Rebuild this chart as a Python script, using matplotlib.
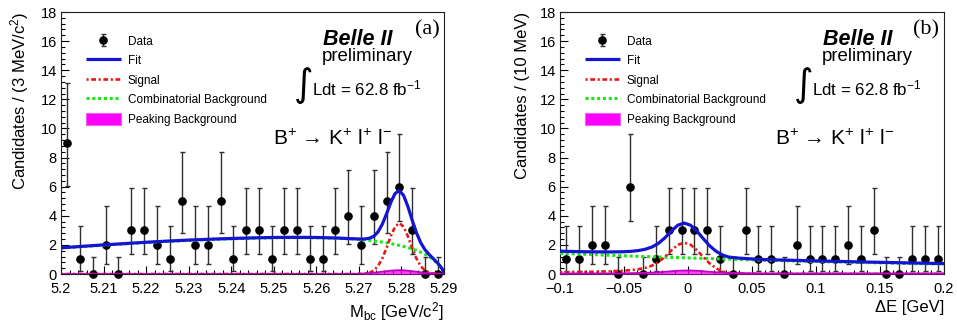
import matplotlib
matplotlib.use('Agg')
import matplotlib.pyplot as plt
from matplotlib.patches import Patch
from matplotlib.ticker import MultipleLocator, FixedLocator

plt.rcParams['font.family'] = ['Liberation Sans', 'DejaVu Sans']
plt.rcParams['mathtext.fontset'] = 'custom'
plt.rcParams['mathtext.rm'] = 'Liberation Sans'
plt.rcParams['mathtext.it'] = 'Liberation Sans:italic'
plt.rcParams['mathtext.bf'] = 'Liberation Sans:bold'

# ---------------- data: panel (a) Mbc ----------------
mbc_bins = [5.2015, 5.2045, 5.2075, 5.2105, 5.2135, 5.2165, 5.2195, 5.2225, 5.2255, 5.2285,
            5.2315, 5.2345, 5.2375, 5.2405, 5.2435, 5.2465, 5.2495, 5.2525, 5.2555, 5.2585,
            5.2615, 5.2645, 5.2675, 5.2705, 5.2735, 5.2765, 5.2795, 5.2825, 5.2855, 5.2885]
mbc_counts = [9, 1, 0, 2, 0, 3, 3, 2, 1, 5, 2, 2, 5, 1, 3, 3, 1, 3, 3, 1, 1, 3, 4, 2, 4, 5, 6, 3, 0, 0]

mbc_x = [5.200, 5.205, 5.210, 5.215, 5.220, 5.225, 5.230, 5.235, 5.240, 5.245, 5.250, 5.255,
         5.260, 5.265, 5.2695, 5.2705, 5.2715, 5.2725, 5.2735, 5.2745, 5.2755, 5.2765, 5.2775,
         5.2785, 5.2795, 5.2805, 5.2815, 5.2825, 5.2835, 5.2845, 5.2855, 5.2865, 5.2875, 5.2885,
         5.2893, 5.2898, 5.2900]
mbc_fit = [1.80, 1.90, 2.00, 2.09, 2.18, 2.26, 2.33, 2.39, 2.44, 2.48, 2.51, 2.52,
           2.51, 2.47, 2.41, 2.40, 2.41, 2.46, 2.59, 2.90, 3.42, 4.13, 4.92,
           5.53, 5.73, 5.40, 4.65, 3.72, 2.85, 2.17, 1.68, 1.34, 1.05, 0.75,
           0.46, 0.25, 0.0]
mbc_sig = [0, 0, 0, 0, 0, 0, 0, 0, 0, 0, 0, 0,
           0, 0, 0.0, 0.01, 0.03, 0.09, 0.24, 0.55, 1.07, 1.80, 2.60,
           3.25, 3.50, 3.25, 2.60, 1.80, 1.07, 0.55, 0.24, 0.09, 0.03, 0.01,
           0.0, 0.0, 0.0]
mbc_comb = [1.78, 1.88, 1.98, 2.07, 2.16, 2.24, 2.31, 2.37, 2.42, 2.46, 2.49, 2.50,
            2.49, 2.45, 2.40, 2.37, 2.34, 2.31, 2.27, 2.23, 2.19, 2.14, 2.09,
            2.03, 1.97, 1.90, 1.82, 1.73, 1.62, 1.50, 1.36, 1.19, 0.98, 0.72,
            0.45, 0.25, 0.0]
mbc_peak = [0, 0, 0, 0, 0, 0, 0, 0, 0, 0, 0, 0,
            0, 0, 0.01, 0.02, 0.04, 0.06, 0.08, 0.12, 0.16, 0.19, 0.23,
            0.25, 0.26, 0.25, 0.23, 0.19, 0.16, 0.12, 0.08, 0.06, 0.04, 0.02,
            0.01, 0.0, 0.0]
mbc_ticks = [5.20, 5.21, 5.22, 5.23, 5.24, 5.25, 5.26, 5.27, 5.28, 5.29]
mbc_ticklabels = ['5.2', '5.21', '5.22', '5.23', '5.24', '5.25', '5.26', '5.27', '5.28', '5.29']

# ---------------- data: panel (b) DeltaE ----------------
de_bins = [-0.095, -0.085, -0.075, -0.065, -0.055, -0.045, -0.035, -0.025, -0.015, -0.005,
           0.005, 0.015, 0.025, 0.035, 0.045, 0.055, 0.065, 0.075, 0.085, 0.095,
           0.105, 0.115, 0.125, 0.135, 0.145, 0.155, 0.165, 0.175, 0.185, 0.195]
de_counts = [1, 1, 2, 2, 0, 6, 0, 1, 3, 3, 3, 3, 1, 0, 3, 1, 1, 0, 2, 1, 1, 1, 2, 1, 3, 0, 0, 1, 1, 1]

de_x = [-0.100, -0.090, -0.080, -0.070, -0.060, -0.050, -0.044, -0.038, -0.033, -0.028,
        -0.023, -0.018, -0.013, -0.008, -0.003, 0.002, 0.007, 0.012, 0.017, 0.022,
        0.027, 0.032, 0.040, 0.050, 0.060, 0.080, 0.100, 0.120, 0.140, 0.160, 0.180, 0.200]
de_fit = [1.57, 1.545, 1.53, 1.52, 1.515, 1.53, 1.56, 1.62, 1.71, 1.86,
          2.11, 2.49, 2.95, 3.35, 3.50, 3.35, 2.94, 2.42, 1.93, 1.56,
          1.30, 1.16, 1.09, 1.035, 0.99, 0.945, 0.90, 0.86, 0.82, 0.785, 0.75, 0.715]
de_sig = [0.11, 0.12, 0.14, 0.16, 0.19, 0.23, 0.27, 0.34, 0.43, 0.58,
          0.82, 1.18, 1.62, 2.00, 2.15, 2.01, 1.63, 1.16, 0.72, 0.39,
          0.18, 0.07, 0.03, 0.01, 0.0, 0.0, 0.0, 0.0, 0.0, 0.0, 0.0, 0.0]
de_comb = [1.42, 1.385, 1.35, 1.32, 1.285, 1.25, 1.23, 1.21, 1.20, 1.18,
           1.17, 1.155, 1.14, 1.13, 1.115, 1.10, 1.085, 1.07, 1.06, 1.045,
           1.03, 1.02, 1.00, 0.975, 0.95, 0.905, 0.86, 0.82, 0.78, 0.745, 0.71, 0.675]
de_peak = [0.04, 0.04, 0.04, 0.04, 0.04, 0.05, 0.06, 0.07, 0.08, 0.10,
           0.12, 0.15, 0.19, 0.22, 0.24, 0.24, 0.22, 0.19, 0.15, 0.12,
           0.09, 0.07, 0.06, 0.05, 0.04, 0.04, 0.04, 0.04, 0.04, 0.04, 0.04, 0.04]
de_ticks = [-0.10, -0.05, 0.0, 0.05, 0.10, 0.15, 0.20]
de_ticklabels = ['\u22120.1', '\u22120.05', '0', '0.05', '0.1', '0.15', '0.2']

# Poisson (68%) intervals per count, as drawn
err_low = {0: 0.0, 1: 0.827, 2: 1.292, 3: 1.633, 4: 1.914, 5: 2.160, 6: 2.380, 9: 2.94}
err_high = {0: 1.148, 1: 2.300, 2: 2.638, 3: 2.918, 4: 3.163, 5: 3.382, 6: 3.584, 9: 4.12}

legend_labels = ['Data', 'Fit', 'Signal', 'Combinatorial Background', 'Peaking Background']

C_FIT = '#1414d2'
C_SIG = '#e81818'
C_COMB = '#1ee61e'
C_PEAK = '#ff00ff'

fig = plt.figure(figsize=(9.57, 3.29), dpi=100)
ax_a = fig.add_axes([61 / 957, 55 / 329, 383 / 957, 262 / 329])
ax_b = fig.add_axes([560 / 957, 55 / 329, 384 / 957, 262 / 329])


def draw_panel(ax, bins, counts, x, fit, sig, comb, peak, xlim, ticks, ticklabels,
               minor, ylabel, xlabel, tag, ylab_x, bk_x, decay_x):
    lo = [err_low[c] for c in counts]
    hi = [err_high[c] for c in counts]
    eb = ax.errorbar(bins, counts, yerr=[lo, hi], fmt='o', color='black', ms=5.2,
                     ecolor='#303030', elinewidth=1.0, capsize=1.8, capthick=1.0,
                     zorder=3, clip_on=False)
    for art in eb.lines[1] + eb.lines[2]:
        art.set_clip_on(False)
    ln_fit, = ax.plot(x, fit, color=C_FIT, lw=2.3, zorder=6, solid_capstyle='butt')
    ln_sig, = ax.plot(x, sig, color=C_SIG, lw=1.9, ls=(0, (0.8, 1.0, 1.8, 1.0)), zorder=5)
    ln_comb, = ax.plot(x, comb, color=C_COMB, lw=2.2, ls=(0, (1.0, 0.9)), zorder=4)
    ax.fill_between(x, 0, peak, color=C_PEAK, alpha=0.75, lw=0, zorder=7)
    ax.plot(x, peak, color='#c000c0', lw=1.3, zorder=7)

    ax.set_xlim(*xlim)
    ax.set_ylim(0, 18)
    ax.xaxis.set_major_locator(FixedLocator(ticks))
    ax.set_xticklabels(ticklabels)
    ax.xaxis.set_minor_locator(MultipleLocator(minor))
    ax.yaxis.set_major_locator(MultipleLocator(2))
    ax.yaxis.set_minor_locator(MultipleLocator(0.4))
    ax.tick_params(which='both', direction='in', top=False, right=False, labelsize=10.5,
                   width=0.8, colors='black')
    ax.tick_params(axis='x', which='major', length=6, pad=6)
    ax.tick_params(axis='x', which='minor', length=3.2)
    ax.tick_params(axis='y', which='major', length=5.5, pad=3)
    ax.tick_params(axis='y', which='minor', length=3)
    for s in ax.spines.values():
        s.set_linewidth(0.8)
        s.set_color('#202020')

    ax.set_ylabel(ylabel, fontsize=12, loc='top')
    ax.yaxis.set_label_coords(ylab_x, 1.0)
    ax.set_xlabel(xlabel, fontsize=12, loc='right')
    ax.xaxis.set_label_coords(1.0, -0.1)

    handles = [eb, ln_fit, ln_sig, ln_comb,
               Patch(facecolor=C_PEAK, edgecolor='#f060f0', lw=0.8)]
    ax.legend(handles, legend_labels, loc='upper left', bbox_to_anchor=(0.066, 0.912),
              frameon=False, fontsize=8.5, handlelength=2.9, handleheight=1.15,
              handletextpad=0.6, labelspacing=0.56, borderpad=0.0, borderaxespad=0.0)

    t = ax.transAxes
    ax.text(0.684, 0.874, 'Belle II', transform=t, fontsize=15.5, fontweight='bold',
            fontstyle='italic', ha='left', va='baseline')
    ax.text(bk_x, 0.916, tag, transform=t, fontsize=16, family='Liberation Serif',
            ha='left', va='baseline')
    ax.text(0.681, 0.812, 'preliminary', transform=t, fontsize=13.4, ha='left', va='baseline')
    ax.text(0.608, 0.718, '\u222b', transform=t, fontsize=27, ha='left', va='center',
            family='DejaVu Sans')
    ax.text(0.655, 0.683, 'Ldt = 62.8 fb$^{-1}$', transform=t, fontsize=12.2,
            ha='left', va='baseline')
    ax.text(decay_x, 0.492,
            'B$^{+}$ \u2192 K$^{+}$ l$^{+}$ l$^{-}$', transform=t, fontsize=15,
            ha='left', va='baseline')


draw_panel(ax_a, mbc_bins, mbc_counts, mbc_x, mbc_fit, mbc_sig, mbc_comb, mbc_peak,
           (5.2, 5.29), mbc_ticks, mbc_ticklabels, 0.002,
           'Candidates / (3 MeV/c$^{2}$)', 'M$_{\\mathregular{bc}}$ [GeV/c$^{2}$]', '(a)',
           -0.078, 0.924, 0.553)
draw_panel(ax_b, de_bins, de_counts, de_x, de_fit, de_sig, de_comb, de_peak,
           (-0.1, 0.2), de_ticks, de_ticklabels, 0.01,
           'Candidates / (10 MeV)', '\u0394E [GeV]', '(b)', -0.078, 0.919, 0.56)

fig.savefig('out.png', dpi=100)
